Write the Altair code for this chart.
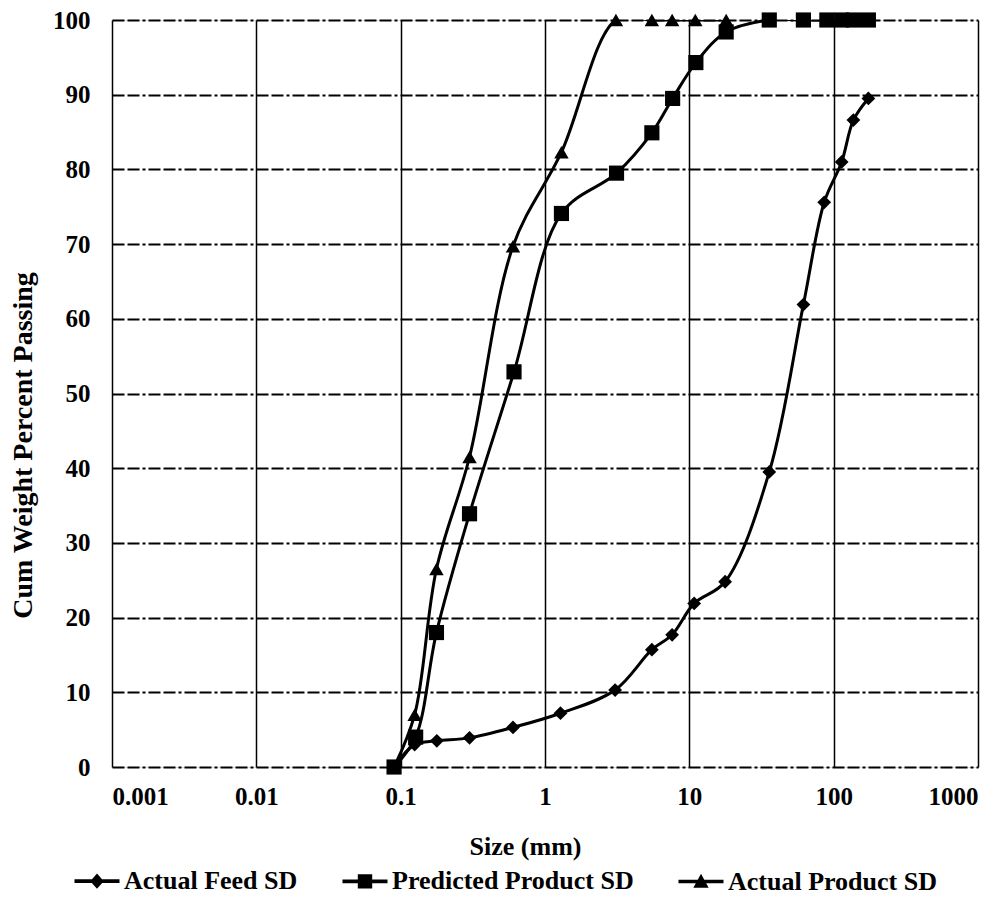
import altair as alt
import pandas as pd

# ---- data ----
series_names = ["Actual Feed SD", "Predicted Product SD", "Actual Product SD"]

feed_size = [0.09, 0.125, 0.178, 0.3, 0.6, 1.28, 3.06, 5.5, 7.6, 10.8, 17.7, 35.8, 61.7, 86, 113.6, 137, 174]
feed_pct = [0, 3.0, 3.5, 3.9, 5.3, 7.2, 10.3, 15.7, 17.7, 21.9, 24.8, 39.5, 61.9, 75.6, 81.0, 86.6, 89.5]

pred_size = [0.09, 0.127, 0.177, 0.3, 0.61, 1.3, 3.13, 5.5, 7.66, 11.1, 18, 35.8, 61.7, 89.7, 113.6, 137, 174]
pred_pct = [0, 4.0, 18.0, 33.9, 52.9, 74.1, 79.5, 84.9, 89.5, 94.3, 98.4, 100, 100, 100, 100, 100, 100]

prod_size = [0.09, 0.125, 0.177, 0.3, 0.6, 1.3, 3.1, 5.5, 7.6, 11, 18]
prod_pct = [0, 7.0, 26.5, 41.5, 69.7, 82.3, 100, 100, 100, 100, 100]

x_ticks = [0.001, 0.01, 0.1, 1, 10, 100, 1000]
x_tick_labels = ["0.001", "0.01", "0.1", "1", "10", "100", "1000"]
y_ticks = [0, 10, 20, 30, 40, 50, 60, 70, 80, 90, 100]

# ---- build table ----
frames = []
for name, sz, pc in zip(series_names, [feed_size, pred_size, prod_size], [feed_pct, pred_pct, prod_pct]):
    frames.append(pd.DataFrame({"size": sz, "pct": pc, "series": name}))
df = pd.concat(frames, ignore_index=True)

FONT = "Liberation Serif"
label_expr = "[" + ",".join("'%s'" % t for t in x_tick_labels) + "][round(log(datum.value)/LN10)+3]"

x_enc = alt.X(
    "size:Q",
    scale=alt.Scale(type="log", domain=[0.001, 1000]),
    axis=alt.Axis(
        values=x_ticks, labelExpr=label_expr, grid=True, gridColor="black", gridWidth=1.5,
        ticks=False, domain=False, labelFont=FONT, labelFontWeight="bold", labelFontSize=25,
        labelColor="black", labelPadding=17, title="Size (mm)", titleFont=FONT,
        titleFontWeight="bold", titleFontSize=26, titleColor="black", titlePadding=24,
        titleX=413,
    ),
)
y_enc = alt.Y(
    "pct:Q",
    scale=alt.Scale(domain=[0, 100]),
    axis=alt.Axis(
        values=y_ticks, grid=True, gridColor="black", gridWidth=2, gridDash=[12, 3, 12, 3, 3, 3],
        ticks=False, domain=False, labelFont=FONT, labelFontWeight="bold", labelFontSize=25,
        labelColor="black", labelPadding=22, title="Cum Weight Percent Passing", titleFont=FONT,
        titleFontWeight="bold", titleFontSize=28, titleColor="black", titlePadding=15,
        titleY=425,
    ),
)

shapes = {"Actual Feed SD": ("diamond", 190), "Predicted Product SD": ("square", 230), "Actual Product SD": ("triangle-up", 210)}

layers = []
for name in ["Actual Feed SD", "Actual Product SD", "Predicted Product SD"]:
    sub = alt.Chart(df).transform_filter(alt.datum.series == name)
    layers.append(sub.mark_line(interpolate="catmull-rom", color="black", strokeWidth=3, clip=True).encode(x=x_enc, y=y_enc))
    shp, sz = shapes[name]
    layers.append(sub.mark_point(shape=shp, size=sz, filled=True, color="black", opacity=1).encode(x=x_enc, y=y_enc))

legend_paths = [
    "M-1,-0.08H1V0.08H-1ZM0,-0.34L0.3,0L0,0.34L-0.3,0Z",
    "M-1,-0.08H1V0.08H-1ZM-0.32,-0.32H0.32V0.32H-0.32Z",
    "M-1,-0.08H1V0.08H-1ZM0,-0.34L0.34,0.28H-0.34Z",
]
legend_layer = alt.Chart(df).transform_filter("false").mark_point(
    filled=True, fill="black", stroke="black", strokeWidth=3, opacity=1
).encode(
    x=x_enc, y=y_enc,
    shape=alt.Shape(
        "series:N",
        scale=alt.Scale(domain=series_names, range=legend_paths),
        legend=alt.Legend(
            title=None, orient="none", direction="horizontal", legendX=-39, legendY=837,
            symbolSize=2025, symbolFillColor="black", symbolStrokeColor="black", symbolStrokeWidth=3,
            labelFont=FONT, labelFontWeight="bold", labelFontSize=26, labelColor="black",
            labelLimit=0, columnPadding=38, labelOffset=3, symbolOpacity=1,
        ),
    ),
)

chart = alt.layer(*layers, legend_layer).properties(
    width=866, height=747,
    autosize=alt.AutoSizeParams(type="none"),
    padding={"left": 104, "top": 12, "right": 14, "bottom": 135},
).configure_view(stroke="black", strokeWidth=2).configure(background="white")

chart.save("out.html", embed_options={"renderer": "svg", "actions": False})
